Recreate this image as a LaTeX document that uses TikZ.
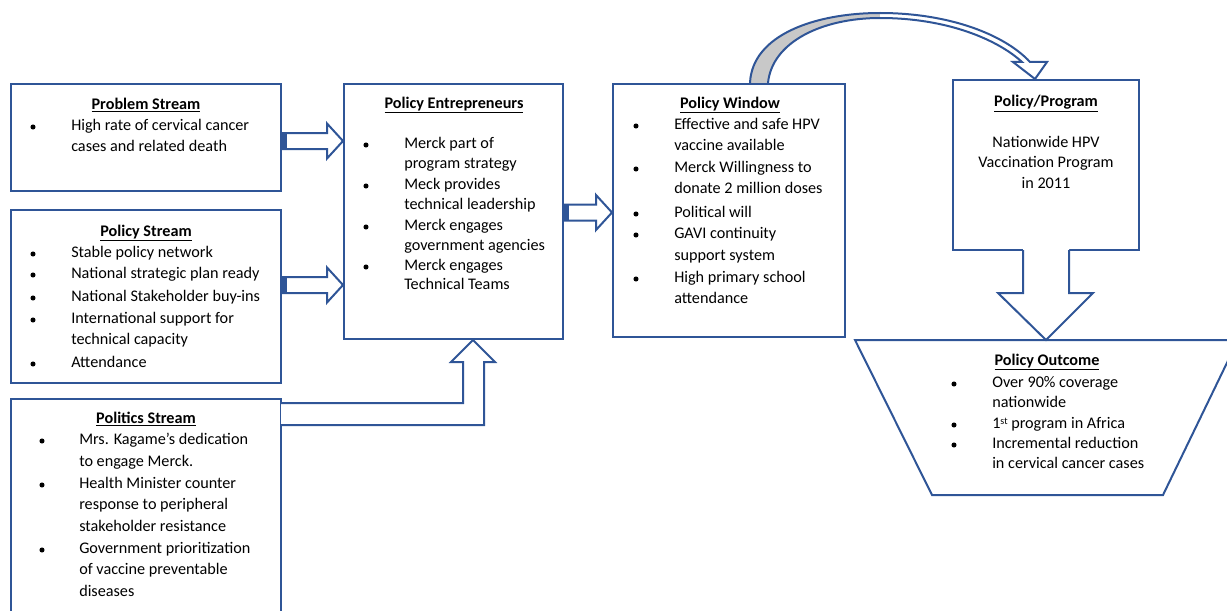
\documentclass[tikz,border=0pt]{standalone}
\usepackage{fontspec}
\setmainfont{Carlito}
\usetikzlibrary{calc,fit}

\definecolor{boxblue}{RGB}{47,85,151}
\definecolor{ribbon}{RGB}{200,200,200}

\tikzset{
  box/.style={draw=boxblue, line width=1.5pt, inner sep=0pt},
  blk/.style={draw=boxblue, line width=1.5pt, fill=white, line join=miter},
  txt/.style={anchor=mid west, inner sep=0pt, yshift=-1.5pt, font=\fontsize{12.15}{14}\selectfont},
  ctr/.style={anchor=mid, inner sep=0pt, yshift=-1.5pt, font=\fontsize{12.15}{14}\selectfont},
  ttl/.style={ctr, font=\fontsize{12.15}{14}\selectfont\bfseries},
  dot/.style={radius=1.9pt},
}

% horizontal block arrow from tail #1 to tip #2
\newcommand{\hblock}[2]{%
  \draw[blk] ($(#1)+(0,-8)$) -- ($(#2)+(-16,-8)$) -- ($(#2)+(-16,-17.5)$) -- (#2)
    -- ($(#2)+(-16,17.5)$) -- ($(#2)+(-16,8)$) -- ($(#1)+(0,8)$);
  \fill[boxblue] ($(#1)+(0,-8)$) rectangle ($(#1)+(5,8)$);
}

\begin{document}
\begin{tikzpicture}[x=0.75pt, y=-0.75pt]
    \clip (0,0) rectangle (1227,610);

    % the five boxes
    \node[box, fit={(11,84) (281,191)}] (prob) {};
    \node[box, fit={(11,210) (281,383)}] (pol) {};
    \node[box, fit={(11,399) (281,620)}] (poli) {};
    \node[box, fit={(344,84) (563,339)}] (entr) {};
    \node[box, fit={(613,84) (845,337)}] (win) {};
    \node[box, fit={(953,80) (1139,250)}] (prog) {};

    % problem stream
    \node[ttl] (prob-t) at (146,104) {\underline{Problem Stream}};
    \foreach \y/\t [count=\i] in {125/High rate of cervical cancer, 146/cases and related death}
        \node[txt] (prob-\i) at (71,\y) {\t};
    \fill (33,127) circle[dot];

    % policy stream
    \node[ttl] (pol-t) at (146,231) {\underline{Policy Stream}};
    \foreach \y/\t [count=\i] in {252/Stable policy network, 273/National strategic plan ready,
        296/National Stakeholder buy-ins, 318/International support for,
        339/technical capacity, 362/Attendance}
        \node[txt] (pol-\i) at (71,\y) {\t};
    \foreach \y in {252, 273, 296, 318, 362}
        \fill (33,\y+2) circle[dot];

    % politics stream
    \node[ttl] (poli-t) at (146,418) {\underline{Politics Stream}};
    \foreach \y/\t [count=\i] in {439/Mrs. Kagame’s dedication, 461/to engage Merck.,
        483/Health Minister counter, 504/response to peripheral, 526/stakeholder resistance,
        548/Government prioritization, 569/of vaccine preventable, 591/diseases}
        \node[txt] (poli-\i) at (79,\y) {\t};
    \foreach \y in {439, 483, 548}
        \fill (42,\y+2) circle[dot];

    % policy entrepreneurs
    \node[ttl] (entr-t) at (454,103) {\underline{Policy Entrepreneurs}};
    \foreach \y/\t [count=\i] in {143/Merck part of, 163/program strategy,
        184/Meck provides, 204/technical leadership, 225/Merck engages,
        245/government agencies, 265/Merck engages, 284/Technical Teams}
        \node[txt] (entr-\i) at (404,\y) {\t};
    \foreach \y in {143, 184, 225, 265}
        \fill (366,\y+2) circle[dot];

    % policy window
    \node[ttl] (win-t) at (730,103) {\underline{Policy Window}};
    \foreach \y/\t [count=\i] in {124/Effective and safe HPV, 145/vaccine available,
        167/Merck Willingness to, 188/donate 2 million doses, 212/Political will,
        233/GAVI continuity, 255/support system, 277/High primary school, 298/attendance}
        \node[txt] (win-\i) at (674,\y) {\t};
    \foreach \y in {124, 167, 212, 233, 277}
        \fill (636,\y+2) circle[dot];

    % policy / program
    \node[ttl] (prog-t) at (1046,101) {\underline{Policy/Program}};
    \foreach \y/\t [count=\i] in {142/Nationwide HPV, 162/Vaccination Program, 183/in 2011}
        \node[ctr] (prog-\i) at (1046,\y) {\t};

    % policy outcome (funnel)
    \draw[boxblue, line width=1.5pt] (855,340) -- (1238,340) -- (1163,495) -- (932,495) -- cycle;
    \node[ttl] (out-t) at (1047,360) {\underline{Policy Outcome}};
    \foreach \y/\t [count=\i] in {382/Over 90\% coverage, 402/nationwide,
        423/1{\raisebox{0.5ex}{\fontsize{7.5}{8}\selectfont st}} program in Africa,
        443/Incremental reduction, 463/in cervical cancer cases}
        \node[txt] (out-\i) at (992,\y) {\t};
    \foreach \y in {382, 423, 443}
        \fill (954,\y+2) circle[dot];

    % block arrows into the entrepreneurs and the window
    \coordinate (a1) at ($(prob.east)+(0,3.5)$);
    \coordinate (b1) at (a1 -| entr.west);
    \hblock{a1}{b1}
    \coordinate (a2) at ($(pol.east)+(0,-11.5)$);
    \coordinate (b2) at (a2 -| entr.west);
    \hblock{a2}{b2}
    \coordinate (a3) at ($(entr.east)+(0,1)$);
    \coordinate (b3) at (a3 -| win.west);
    \hblock{a3}{b3}

    % bent arrow up from the politics stream
    \coordinate (up) at ($(entr.south)+(19.5,0)$);
    \draw[blk] (281,403) -- (463,403) -- (463,362) -- (451,362) -- (up)
        -- (495,362) -- (484,362) -- (484,425) -- (281,425);

    % program down into the outcome
    \coordinate (dn) at (1046,340);
    \fill[white] (1023,246) -- (1023,293) -- (998,293) -- (dn) -- (1093,293) -- (1069,293) -- (1069,246) -- cycle;
    \draw[boxblue, line width=1.5pt, line join=miter] (1023,250) -- (1023,293) -- (998,293) -- (dn)
        -- (1093,293) -- (1069,293) -- (1069,250);

    % curved arrow from the window over to the program
    \fill[ribbon] (750,83) .. controls (752,35) and (815,13) .. (880,13)
        -- (880,18) .. controls (822,18) and (772,42) .. (768,83) -- cycle;
    \fill[white] (880,13) .. controls (950,13) and (1005,35) .. (1030,62) -- (1047,62) -- (1035,79)
        -- (1013,62) -- (1022,62) .. controls (998,40) and (948,18) .. (880,18) -- cycle;
    \draw[boxblue, line width=1.5pt, line join=miter] (750,83) .. controls (752,35) and (815,13) .. (880,13)
        .. controls (950,13) and (1005,35) .. (1030,62) -- (1047,62) -- (1035,79) -- (1013,62) -- (1022,62)
        .. controls (998,40) and (948,18) .. (880,18) .. controls (822,18) and (772,42) .. (768,83);
\end{tikzpicture}
\end{document}
